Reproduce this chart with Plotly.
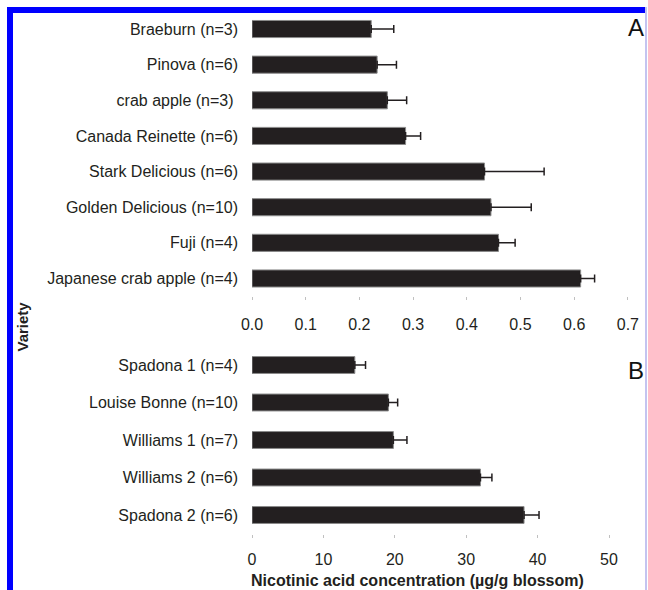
import plotly.graph_objects as go

# Panel A: apple varieties
apple_varieties = [
    "Braeburn (n=3)", "Pinova (n=6)", "crab apple (n=3)\u00a0", "Canada Reinette (n=6)",
    "Stark Delicious (n=6)", "Golden Delicious (n=10)", "Fuji (n=4)",
    "Japanese crab apple (n=4)",
]
apple_means = [0.222, 0.233, 0.252, 0.286, 0.433, 0.445, 0.459, 0.612]
apple_err = [0.042, 0.036, 0.036, 0.028, 0.111, 0.075, 0.031, 0.026]
apple_ticks = [0.0, 0.1, 0.2, 0.3, 0.4, 0.5, 0.6, 0.7]
apple_ticktext = ["0.0", "0.1", "0.2", "0.3", "0.4", "0.5", "0.6", "0.7"]

# Panel B: pear varieties
pear_varieties = [
    "Spadona 1 (n=4)", "Louise Bonne (n=10)", "Williams 1 (n=7)",
    "Williams 2 (n=6)", "Spadona 2 (n=6)",
]
pear_means = [14.4, 19.1, 19.8, 32.0, 38.1]
pear_err = [1.5, 1.3, 1.9, 1.6, 2.1]
pear_ticks = [0, 10, 20, 30, 40, 50]

W, H = 648, 590
BAR = "#231f20"
TXT = "#231f20"
FONT = "Liberation Sans, Arial, sans-serif"


def px(x):
    return x / W


def py(y):
    return 1 - y / H


fig = go.Figure()

fig.add_trace(go.Bar(
    x=apple_means, y=apple_varieties, orientation="h",
    marker=dict(color=BAR, line=dict(color="#8a8a8a", width=1)),
    width=0.48,
    error_x=dict(type="data", array=apple_err, arrayminus=[0] * len(apple_err),
                 symmetric=False, color=BAR, thickness=1.5, width=4),
    xaxis="x", yaxis="y", showlegend=False,
))

fig.add_trace(go.Bar(
    x=pear_means, y=pear_varieties, orientation="h",
    marker=dict(color=BAR, line=dict(color="#8a8a8a", width=1)),
    width=0.45,
    error_x=dict(type="data", array=pear_err, arrayminus=[0] * len(pear_err),
                 symmetric=False, color=BAR, thickness=1.5, width=4),
    xaxis="x2", yaxis="y2", showlegend=False,
))

tickfont = dict(family=FONT, size=16, color=TXT)
x_left, x_right = px(252), px(628)

common_x = dict(ticks="outside", ticklen=3, tickcolor="#c0c0c0", automargin=False,
                showgrid=False, zeroline=False, showline=False, tickfont=tickfont)
common_y = dict(ticks="", ticklabelstandoff=13, automargin=False,
                autorange="reversed", categoryorder="array",
                showgrid=False, zeroline=False, showline=False, tickfont=tickfont)

fig.update_layout(
    width=W, height=H, autosize=False,
    margin=dict(l=0, r=0, t=0, b=0, pad=0),
    paper_bgcolor="white", plot_bgcolor="white",
    xaxis=dict(domain=[x_left, x_right], range=[0, 0.7002], anchor="y",
               tickvals=apple_ticks, ticktext=apple_ticktext,
               ticklabelstandoff=10, **common_x),
    yaxis=dict(domain=[py(296.3), py(11.2)], anchor="x",
               categoryarray=apple_varieties, **common_y),
    xaxis2=dict(domain=[x_left, x_right], range=[0, 52.66], anchor="y2",
                tickvals=pear_ticks, ticklabelstandoff=8, **common_x),
    yaxis2=dict(domain=[py(533.75), py(346.25)], anchor="x2",
                categoryarray=pear_varieties, **common_y),
)

# Frame lines around the figure
fig.add_shape(type="rect", xref="paper", yref="paper",
              x0=px(7), x1=px(13), y0=0, y1=py(7),
              fillcolor="#0000ff", line=dict(width=0), layer="above")
fig.add_shape(type="rect", xref="paper", yref="paper",
              x0=px(7), x1=px(645), y0=py(13), y1=py(7),
              fillcolor="#0000ff", line=dict(width=0), layer="above")
fig.add_shape(type="rect", xref="paper", yref="paper",
              x0=px(645), x1=px(647), y0=0, y1=py(7),
              fillcolor="#c4c4f0", line=dict(width=0), layer="above")

# Panel letters
fig.add_annotation(text="A", xref="paper", yref="paper", x=px(646), y=py(27),
                   xanchor="right", yanchor="middle", showarrow=False,
                   font=dict(family=FONT, size=24, color="#111111"))
fig.add_annotation(text="B", xref="paper", yref="paper", x=px(646), y=py(370),
                   xanchor="right", yanchor="middle", showarrow=False,
                   font=dict(family=FONT, size=24, color="#111111"))

# Shared axis titles
fig.add_annotation(text="<b>Variety</b>", xref="paper", yref="paper",
                   x=px(11), y=py(327), xanchor="left", yanchor="middle",
                   textangle=-90, showarrow=False,
                   font=dict(family=FONT, size=15, color=TXT))
fig.add_annotation(text="<b>Nicotinic acid concentration (µg/g blossom)</b>",
                   xref="paper", yref="paper", x=px(249), y=py(580),
                   xanchor="left", yanchor="middle", showarrow=False,
                   font=dict(family=FONT, size=16, color=TXT))

fig.write_html("out.html")
